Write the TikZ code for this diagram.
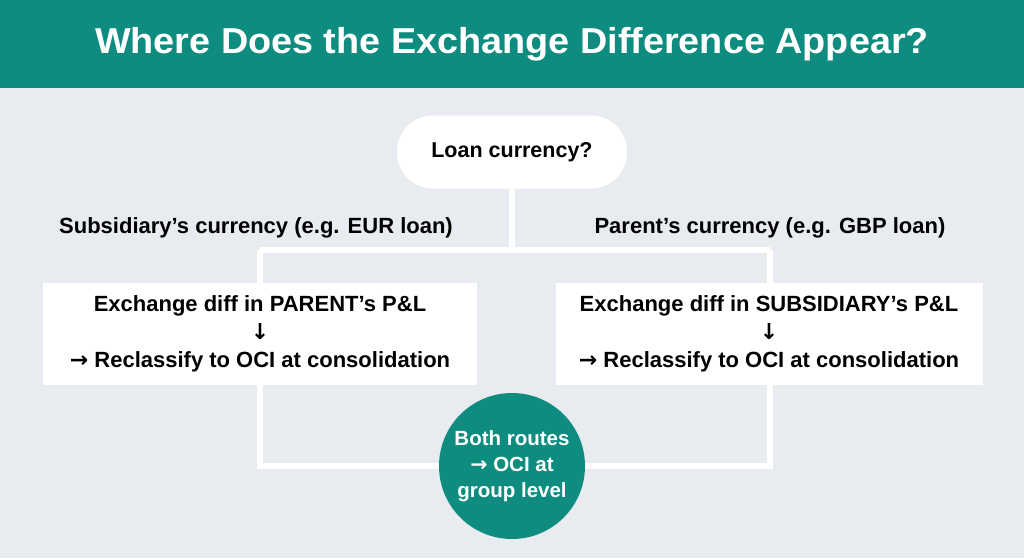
\documentclass[tikz,border=0pt]{standalone}
\usepackage{fontspec}
\setmainfont{Liberation Sans}
\newfontfamily\arrfont{DejaVu Sans}
\newcommand{\ra}{{\arrfont →}}
\newcommand{\da}{{\arrfont ↓}}
\definecolor{tealA}{HTML}{0F8C80}
\definecolor{bgA}{HTML}{E8ECF0}
\pgfdeclarelayer{bglayer}
\pgfdeclarelayer{linelayer}
\pgfsetlayers{bglayer,linelayer,main}
\begin{document}
\begin{tikzpicture}[x=1pt,y=-1pt,
  conn/.style={draw=white, line width=6pt, line join=miter},
  pill/.style={fill=white, rounded corners=36pt, minimum width=230pt, minimum height=73pt, inner sep=0pt, font=\fontsize{21.5}{25}\selectfont\bfseries},
  lbl/.style={font=\fontsize{22}{25}\selectfont\bfseries, inner sep=0pt},
  box/.style={fill=white, minimum height=102pt, align=center, inner sep=0pt, font=\fontsize{22}{28}\selectfont\bfseries},
  circ/.style={circle, fill=tealA, minimum size=146pt, inner sep=0pt, align=center, text=white, font=\fontsize{20.5}{26}\selectfont\bfseries}]
\begin{pgfonlayer}{bglayer}
\fill[bgA] (0,0) rectangle (1024,558);
\fill[tealA] (0,0) rectangle (1024,88);
\end{pgfonlayer}
\useasboundingbox (0,0) rectangle (1024,558);
\node[text=white, font=\fontsize{36}{40}\selectfont\bfseries, inner sep=0pt, xscale=1.05] (title) at (512,44) {Where Does the Exchange Difference Appear?};
\node[pill] (q) at (512,152) {Loan currency?};
\node[lbl] (ls) at (256,228) {Subsidiary’s currency (e.g. EUR loan)};
\node[lbl] (rs) at (770,228) {Parent’s currency (e.g. GBP loan)};
\node[box, minimum width=434pt] (left) at (260,334) {Exchange diff in PARENT’s P\&L\\\da\\\ra{} Reclassify to OCI at consolidation};
\node[box, minimum width=427pt] (right) at (769,334) {Exchange diff in SUBSIDIARY’s P\&L\\\da\\\ra{} Reclassify to OCI at consolidation};
\node[circ] (c) at (512,466) {Both routes\\\ra{} OCI at\\group level};
\coordinate (top) at (512,250);
\coordinate (tl) at (260,250);
\coordinate (tr) at (770,250);
\coordinate (bl) at (260,466);
\coordinate (br) at (770,466);
\begin{pgfonlayer}{linelayer}
\draw[conn] (q.south) -- (top);
\draw[conn] (tl) -- (tr);
\draw[conn] (tl) -- (left.center) -- (bl) -- (c.center) -- (br) -- (tr |- right.center) -- (tr);
\end{pgfonlayer}
\end{tikzpicture}
\end{document}
